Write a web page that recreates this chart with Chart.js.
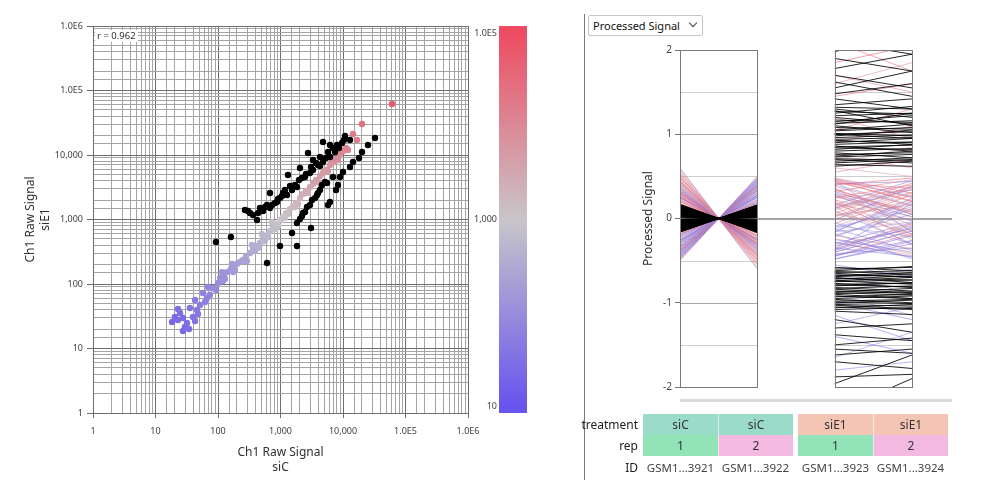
<!DOCTYPE html>
<html>
<head>
<meta charset="utf-8">
<script src="https://cdn.jsdelivr.net/npm/chart.js@4.4.1/dist/chart.umd.min.js"></script>
<style>
  body { margin: 0; background: #fff; font-family: "Noto Sans", sans-serif; }
  #page { position: relative; width: 993px; height: 497px; overflow: hidden; }
  #scatterBox { position: absolute; left: 0; top: 0; width: 580px; height: 497px; }
  #profileBox { position: absolute; left: 637px; top: 40px; width: 356px; height: 360px; }
  #divider { position: absolute; left: 584px; top: 14px; width: 1px; height: 466px; background: #7a7a7a; }
  #measure { position: absolute; left: 588px; top: 15px; width: 115px; height: 21px; box-sizing: border-box;
             border: 1px solid #c4c4c4; border-radius: 2px; font-size: 11px; line-height: 19px; color: #111; padding-left: 4px; }
  #measure .chev { position: absolute; left: 101px; top: 4px; width: 5px; height: 5px;
                   border-right: 1px solid #444; border-bottom: 1px solid #444; transform: rotate(45deg); }
  #scroll { position: absolute; left: 680px; top: 399px; width: 272px; height: 3px; background: #dadada; }
  .lbl { position: absolute; width: 80px; text-align: right; font-size: 12px; color: #222; }
  .cell { position: absolute; height: 21px; line-height: 21px; text-align: center; font-size: 12px; color: #333; box-sizing: border-box; }
</style>
</head>
<body>
<div id="page">
  <div id="scatterBox"><canvas id="scatter"></canvas></div>
  <div id="divider"></div>
  <div id="measure">Processed Signal<span class="chev"></span></div>
  <div id="profileBox"><canvas id="profile"></canvas></div>
  <div id="scroll"></div>
  <div id="table"></div>
</div>
<script>
// ---- scatter: Ch1 raw signal, siC (x) vs siE1 (y) ----
const siC_raw = [18.4,20.5,22.9,24.7,27.5,29.6,31.9,34.4,35.6,39.8,42.9,46.1,51.5,47.9,57.5,62,66.7,74.5,83.2,92.9,
  100,108,125,139,161,180,201,225,251,281,325,363,406,470,525,586,679,759,847,982,
  1096,1225,1419,1585,1770,2051,2291,2559,2965,3311,3698,4285,4786,5346,6194,6918,7727,8954,10000,11170,
  14450,16750,20140,60800,120,174,291,437,631,912,1318,1905,2754,3981,5754,8318,12020,22.9,27.5,42.9,69.2,
  129,187,270,391,565,817,1180,1706,116,167,350,506,731];
const siE1_raw = [25.8,30.8,27.7,35.5,18.7,21.5,24.9,20.1,42.5,30.8,26.7,39.5,47.3,34.3,72.5,52.6,60.7,67.5,86.7,80.7,
  104,124,133,153,171,190,204,219,236,272,303,337,388,432,499,555,663,738,851,982,
  1094,1261,1455,1619,1803,2154,2485,2767,3190,3550,4090,4725,5260,5850,7000,7790,8670,10370,11530,12840,
  21170,17100,30260,61800,111,153,227,361,535,793,1217,1738,2576,3813,5650,8360,11960,41,29.7,56.5,89.8,
  120,165,227,325,464,712,1055,1563,153,204,402,596,915];
// highlighted (changed) genes
const sel_siC_raw = [270,325,421,470,525,608,679,817,679,879,982,1096,1271,1318,1528,1837,2051,2466,2965,3311,
  3981,4786,2754,6194,6918,4786,3311,4285,5754,6194,8017,9638,10370,10765,12942,
  302,363,437,565,731,912,1057,1180,1419,1706,1977,2208,2559,3076,3698,4285,5346,7447,8630,
  92.9,161,608,982,1837,1528,
  1837,2051,2291,2655,2965,3192,3837,4285,4613,5152,5546,6194,5754,6918,3076,8954,10000,12942,14450,18030,
  20140,25120,32510,7727,8318,3565,2466,2208,3981];
const sel_siE1_raw = [1400,1261,982,1508,1355,1680,1508,1803,2576,1868,2154,2576,2400,4890,2860,3190,6290,4560,5260,5850,
  7000,7790,10740,9310,12840,15910,8360,9310,11130,14300,14300,15350,17100,19710,17100,
  1355,1175,1261,1563,1680,2080,2313,2860,3306,3420,4090,4400,5075,6520,7515,6750,8980,11130,12840,
  448,535,212,388,388,618,
  883,1018,1261,1563,1680,2005,2400,2860,3420,3813,3680,1868,1680,4560,738,4560,5450,6520,7790,8980,
  11130,14300,18350,2860,3420,2154,1307,1133,2576];
const axisTicks = [1, 10, 100, 1000, 10000, 100000, 1000000];
const colorBarTicks = [10, 1000, 100000];
const corrLabel = 'r = 0.962';

// ---- profile: processed signal per sample ----
const sampleIds = ['GSM1...3921', 'GSM1...3922', 'GSM1...3923', 'GSM1...3924'];
const treatments = ['siC', 'siC', 'siE1', 'siE1'];
const reps = ['1', '2', '1', '2'];
const sampleX = [0, 1, 2, 3];

const hl_siC_1 = [0.12,-0.08,0.05,-0.15,0.10,-0.03,0.16,-0.11,0.02,-0.06,0.14,-0.13,0.07,-0.02,0.09,-0.16,0.04,-0.09,0.13,-0.05,
  0.01,-0.12,0.15,-0.07,0.06,-0.10,0.11,-0.04,0.08,-0.14,0.03,-0.11,0.17,-0.06,0.09,-0.13,0.05,-0.02,0.12,-0.08,
  0.14,-0.16,0.07,-0.04,0.10,-0.09,0.02,-0.12,0.15,-0.05,0.06,-0.15,0.11,-0.03,0.08,-0.10,0.13,-0.07,0.04,-0.01,
  0.09,-0.12,0.15,-0.04,0.06,-0.14,0.11,-0.07,0.03,-0.16,0.13,-0.09,0.05,-0.11,0.16,-0.02,0.08,-0.13,0.10,-0.06,
  0.12,-0.05,0.04,-0.15,0.14,-0.08,0.07,-0.10,0.02,-0.12,0.11,-0.03,0.16,-0.09,0.06,-0.14,0.09,-0.01,0.13,-0.07];
const hl_siC_2 = [-0.12,0.08,-0.05,0.15,-0.10,0.03,-0.16,0.11,-0.02,0.06,-0.14,0.13,-0.07,0.02,-0.09,0.16,-0.04,0.09,-0.13,0.05,
  -0.01,0.12,-0.15,0.07,-0.06,0.10,-0.11,0.04,-0.08,0.14,-0.03,0.11,-0.17,0.06,-0.09,0.13,-0.05,0.02,-0.12,0.08,
  -0.14,0.16,-0.07,0.04,-0.10,0.09,-0.02,0.12,-0.15,0.05,-0.06,0.15,-0.11,0.03,-0.08,0.10,-0.13,0.07,-0.04,0.01,
  -0.09,0.12,-0.15,0.04,-0.06,0.14,-0.11,0.07,-0.03,0.16,-0.13,0.09,-0.05,0.11,-0.16,0.02,-0.08,0.13,-0.10,0.06,
  -0.12,0.05,-0.04,0.15,-0.14,0.08,-0.07,0.10,-0.02,0.12,-0.11,0.03,-0.16,0.09,-0.06,0.14,-0.09,0.01,-0.13,0.07];
const hl_siE1_1 = [2.10,1.98,1.90,1.78,1.70,1.55,1.62,1.48,1.42,1.35,1.30,1.25,1.20,1.15,1.10,1.05,1.00,0.98,0.93,0.90,
  0.86,0.82,0.78,0.74,0.70,0.68,0.64,0.62,1.28,1.12,
  -0.58,-0.62,-0.65,-0.68,-0.70,-0.74,-0.77,-0.80,-0.84,-0.87,-0.90,-0.93,-0.96,-1.00,-1.03,-1.06,-1.10,-1.20,-1.30,-1.38,
  -1.50,-1.55,-1.62,-1.70,-1.96,-2.30,-1.88,-0.72,-0.82,-0.95,
  0.66,0.71,0.76,0.80,0.84,0.88,0.92,0.96,1.01,1.04,1.08,1.13,1.17,1.22,1.27,1.32,0.73,0.94,1.00,0.85,
  -0.60,-0.63,-0.67,-0.71,-0.75,-0.79,-0.83,-0.86,-0.89,-0.92,-0.98,-1.02,-1.05,-1.08,-0.69,-0.78,-0.88,-0.99,-0.64,-0.74];
const hl_siE1_2 = [1.95,2.20,1.75,1.95,1.55,1.75,1.45,1.60,1.30,1.42,1.20,1.33,1.12,1.22,1.02,1.12,0.95,1.05,0.88,0.95,
  0.80,0.88,0.72,0.80,0.66,0.72,0.62,0.68,1.10,1.25,
  -0.62,-0.57,-0.70,-0.64,-0.76,-0.70,-0.82,-0.76,-0.88,-0.83,-0.95,-0.90,-1.00,-0.97,-1.07,-1.02,-1.14,-1.35,-1.25,-1.45,
  -1.42,-1.60,-1.55,-1.78,-1.62,-1.90,-1.85,-0.68,-0.86,-0.92,
  0.70,0.69,0.78,0.83,0.82,0.91,0.90,0.99,0.98,1.08,1.06,1.16,1.14,1.25,1.24,1.30,0.76,0.96,1.03,0.87,
  -0.58,-0.66,-0.69,-0.73,-0.73,-0.81,-0.80,-0.89,-0.87,-0.95,-0.96,-1.04,-1.08,-1.06,-0.66,-0.77,-0.91,-1.01,-0.62,-0.78];

const col_siC_1 = [0.45,-0.38,0.30,-0.25,0.52,-0.45,0.20,-0.30,0.38,-0.18,0.60,-0.50,0.25,-0.35,0.15,-0.22,0.42,-0.40,0.33,-0.28,
  0.12,-0.15,0.48,-0.42,0.27,-0.20,0.36,-0.32,0.22,-0.47,0.40,-0.36,0.18,-0.26,0.50,-0.44,0.28,-0.12,0.34,-0.38,
  0.55,-0.30,0.24,-0.22,0.44,-0.48,0.32,-0.16,0.20,-0.34,0.46,-0.40,0.30,-0.24,0.38,-0.20,0.26,-0.43,0.16,-0.28,
  0.35,-0.33,0.41,-0.19,0.29,-0.37,0.14,-0.46,0.23,-0.27,
  0.50,-0.42,0.36,-0.28,0.44,-0.34,0.26,-0.46,0.40,-0.22,0.54,-0.38,0.32,-0.30,0.48,-0.44,0.21,-0.36,0.58,-0.26,
  0.37,-0.41,0.29,-0.33,0.43,-0.18,0.31,-0.49,0.25,-0.39];
const col_siC_2 = [-0.45,0.38,-0.30,0.25,-0.52,0.45,-0.20,0.30,-0.38,0.18,-0.60,0.50,-0.25,0.35,-0.15,0.22,-0.42,0.40,-0.33,0.28,
  -0.12,0.15,-0.48,0.42,-0.27,0.20,-0.36,0.32,-0.22,0.47,-0.40,0.36,-0.18,0.26,-0.50,0.44,-0.28,0.12,-0.34,0.38,
  -0.55,0.30,-0.24,0.22,-0.44,0.48,-0.32,0.16,-0.20,0.34,-0.46,0.40,-0.30,0.24,-0.38,0.20,-0.26,0.43,-0.16,0.28,
  -0.35,0.33,-0.41,0.19,-0.29,0.37,-0.14,0.46,-0.23,0.27,
  -0.50,0.42,-0.36,0.28,-0.44,0.34,-0.26,0.46,-0.40,0.22,-0.54,0.38,-0.32,0.30,-0.48,0.44,-0.21,0.36,-0.58,0.26,
  -0.37,0.41,-0.29,0.33,-0.43,0.18,-0.31,0.49,-0.25,0.39];
const col_siE1_1 = [0.30,-0.20,0.45,-0.40,0.10,-0.05,0.25,-0.35,0.05,0.40,-0.15,0.20,-0.45,0.35,-0.25,0.15,-0.10,0.48,-0.30,0.00,
  0.28,-0.42,0.12,-0.18,0.38,-0.08,0.22,-0.32,0.42,-0.48,0.08,-0.22,0.32,-0.38,0.18,-0.12,0.46,0.02,-0.28,0.26,
  0.55,0.75,0.90,1.20,1.45,1.70,1.85,0.65,1.05,1.60,0.60,2.10,
  -0.55,-0.75,-1.00,-1.25,-1.40,-1.65,-1.80,-0.90,-1.15,-0.65,
  0.14,-0.02,0.36,-0.36,0.04,-0.16,0.24,-0.44,
  0.44,-0.12,0.18,-0.36,0.06,0.32,-0.28,0.12,-0.44,0.27,-0.06,0.40,-0.33,0.16,-0.20,0.47,-0.40,0.09,0.34,-0.16,
  0.22,-0.48,0.03,0.41,-0.24,0.13,-0.37,0.29,-0.09,0.45];
const col_siE1_2 = [0.10,0.05,0.20,-0.15,0.35,-0.30,0.40,-0.45,-0.10,0.48,0.20,-0.25,-0.20,0.05,-0.40,0.30,0.10,0.30,-0.05,0.22,
  -0.08,-0.35,0.42,-0.48,0.15,-0.22,0.02,-0.12,0.36,-0.30,-0.18,0.12,0.46,-0.10,-0.02,-0.38,0.25,0.28,-0.46,0.08,
  0.70,0.60,1.10,0.95,1.60,1.50,2.05,0.85,1.30,1.85,0.50,1.75,
  -0.70,-0.60,-1.20,-1.05,-1.60,-1.35,-1.70,-1.15,-1.45,-0.90,
  -0.32,0.38,-0.15,0.18,0.16,-0.04,0.34,-0.26,
  0.21,0.14,-0.22,-0.08,0.39,0.05,-0.44,0.34,-0.18,-0.03,0.28,0.16,-0.12,0.45,-0.36,0.26,-0.14,-0.30,0.07,0.24,
  -0.19,-0.27,0.31,0.44,-0.42,0.37,-0.06,0.02,0.20,-0.16];
// log10 mean raw signal, drives the line colour
const col_level = [4.2,1.8,4.5,1.5,3.9,2.0,4.4,1.6,3.6,4.7,1.9,4.1,1.4,4.3,1.7,3.8,2.1,4.6,1.5,3.7,
  4.0,1.6,4.4,1.8,4.2,2.2,3.9,1.7,4.5,1.4,3.8,2.0,4.3,1.5,4.1,1.9,4.6,3.5,1.6,4.0,
  4.3,3.9,4.5,4.1,4.7,4.2,4.8,3.8,4.4,4.0,3.7,4.6,
  1.5,1.8,1.3,1.7,1.4,1.9,1.6,2.0,1.5,1.8,
  4.2,1.7,3.9,1.6,4.4,2.1,4.0,1.5,
  4.3,2.0,4.1,1.7,4.5,1.6,3.9,1.8,4.4,1.5,4.6,2.1,4.0,1.7,4.2,1.6,3.8,1.9,4.5,1.4,
  4.1,1.8,4.3,1.6,4.0,2.0,4.4,1.5,3.9,1.7];

Chart.defaults.font.family = "'Noto Sans', sans-serif";
Chart.defaults.color = '#404040';

// blue -> grey -> red, on log10 signal
function heat(lg, a) {
  const stops = [[1, [104, 84, 238]], [3, [200, 198, 201]], [5, [238, 76, 99]]];
  lg = Math.max(1, Math.min(5, lg));
  const s = lg <= 3 ? 0 : 1;
  const t = (lg - stops[s][0]) / 2;
  const c = stops[s][1].map((c0, k) => Math.round(c0 + (stops[s + 1][1][k] - c0) * t));
  return `rgba(${c[0]},${c[1]},${c[2]},${a})`;
}

function fmtSignal(v) {
  if (v >= 100000) return '1.0E' + Math.round(Math.log10(v));
  return v.toLocaleString('en-US');
}
const isDecade = v => Math.abs(Math.log10(v) - Math.round(Math.log10(v))) < 1e-9;

const colorBarPlugin = {
  id: 'colorBar',
  afterDraw(chart) {
    const { ctx, chartArea: a } = chart;
    const x0 = a.right + 31, w = 28;
    const yOf = lg => a.bottom - 7 - (lg - 1) * (a.height - 14) / 4;
    ctx.save();
    const g = ctx.createLinearGradient(0, yOf(5), 0, yOf(1));
    g.addColorStop(0, heat(5, 1));
    g.addColorStop(0.5, heat(3, 1));
    g.addColorStop(1, heat(1, 1));
    ctx.fillStyle = g;
    ctx.fillRect(x0, a.top, w, a.height);
    ctx.font = "9px 'Noto Sans'";
    ctx.fillStyle = '#404040';
    ctx.textAlign = 'right';
    ctx.textBaseline = 'middle';
    colorBarTicks.forEach(v => ctx.fillText(fmtSignal(v), x0 - 2, yOf(Math.log10(v))));
    // correlation tag
    ctx.fillStyle = '#fff';
    ctx.fillRect(a.left + 2, a.top + 4, 43, 12);
    ctx.fillStyle = '#303030';
    ctx.textAlign = 'left';
    ctx.font = "9.5px 'Noto Sans'";
    ctx.fillText(corrLabel, a.left + 4, a.top + 10);
    ctx.restore();
  }
};

const logAxis = (titleLines, isX) => ({
  type: 'logarithmic',
  min: 1,
  max: 1000000,
  position: isX ? 'bottom' : 'left',
  grid: {
    color: c => isDecade(c.tick.value) ? '#6e6e6e' : '#a4a4a4',
    tickColor: c => isDecade(c.tick.value) ? '#6e6e6e' : 'rgba(0,0,0,0)',
    tickLength: isX ? 5 : 6,
    lineWidth: 1
  },
  border: { color: '#6e6e6e' },
  ticks: {
    autoSkip: false,
    maxRotation: 0,
    padding: isX ? 8 : 4,
    font: { size: 9 },
    color: '#404040',
    callback: v => axisTicks.includes(v) ? fmtSignal(v) : ''
  },
  title: {
    display: true,
    text: titleLines,
    color: '#303030',
    font: { size: 12, lineHeight: 1.25 },
    padding: isX ? { top: 4, bottom: 22 } : { top: 4, bottom: 4 }
  },
  afterFit: s => { if (isX) s.height = 84; else s.width = 74; }
});

new Chart(document.getElementById('scatter'), {
  type: 'scatter',
  data: {
    datasets: [
      {
        data: sel_siC_raw.map((x, i) => ({ x, y: sel_siE1_raw[i] })),
        backgroundColor: '#000',
        pointRadius: 3.2,
        borderWidth: 0
      },
      {
        data: siC_raw.map((x, i) => ({ x, y: siE1_raw[i] })),
        backgroundColor: siC_raw.map((x, i) => heat(Math.log10(Math.sqrt(x * siE1_raw[i])), 1)),
        pointRadius: 3.2,
        borderWidth: 0
      }
    ]
  },
  options: {
    responsive: true,
    maintainAspectRatio: false,
    animation: false,
    events: [],
    layout: { padding: { left: 19, top: 26, right: 112, bottom: 0 } },
    plugins: { legend: { display: false }, tooltip: { enabled: false } },
    scales: {
      x: logAxis(['Ch1 Raw Signal', 'siC'], true),
      y: logAxis(['Ch1 Raw Signal', 'siE1'], false)
    }
  },
  plugins: [colorBarPlugin]
});

// ---- profile chart ----
const groupSpans = [[0, 1], [2, 3]];
const gridLevels = [1.5, 1, 0.5, -0.5, -1, -1.5];

const panelPlugin = {
  id: 'panels',
  beforeDatasetsDraw(chart) {
    const { ctx, chartArea: a, scales: { x, y } } = chart;
    ctx.save();
    ctx.lineWidth = 1;
    groupSpans.forEach(([g0, g1]) => {
      const l = x.getPixelForValue(g0), r = x.getPixelForValue(g1);
      gridLevels.forEach(v => {
        const py = Math.round(y.getPixelForValue(v)) + 0.5;
        ctx.strokeStyle = Number.isInteger(v) ? '#a6a6a6' : '#cdcdcd';
        ctx.beginPath(); ctx.moveTo(l, py); ctx.lineTo(r, py); ctx.stroke();
      });
    });
    const zy = Math.round(y.getPixelForValue(0));
    ctx.strokeStyle = '#a6a6a6';
    ctx.lineWidth = 2;
    ctx.beginPath(); ctx.moveTo(x.getPixelForValue(0), zy); ctx.lineTo(a.right, zy); ctx.stroke();
    ctx.restore();
  },
  afterDatasetsDraw(chart) {
    const { ctx, chartArea: a, scales: { x } } = chart;
    ctx.save();
    ctx.strokeStyle = '#7a7a7a';
    ctx.lineWidth = 1;
    groupSpans.forEach(([g0, g1]) => {
      const l = Math.round(x.getPixelForValue(g0)) + 0.5, r = Math.round(x.getPixelForValue(g1)) + 0.5;
      ctx.strokeRect(l, Math.round(a.top) + 0.5, r - l, Math.round(a.bottom - a.top));
    });
    ctx.restore();
  }
};

function profileSet(vals, color) {
  return {
    data: vals.map((v, k) => ({ x: sampleX[k], y: v })),
    borderColor: color,
    borderWidth: 1,
    pointRadius: 0,
    tension: 0,
    segment: { borderColor: c => c.p0DataIndex === 1 ? 'rgba(0,0,0,0)' : color }
  };
}

const profileSets = [];
hl_siC_1.forEach((v, i) => profileSets.push(profileSet([v, hl_siC_2[i], hl_siE1_1[i], hl_siE1_2[i]], 'rgba(0,0,0,0.85)')));
col_siC_1.forEach((v, i) => profileSets.push(profileSet([v, col_siC_2[i], col_siE1_1[i], col_siE1_2[i]], heat(col_level[i], 0.55))));

new Chart(document.getElementById('profile'), {
  type: 'line',
  data: { datasets: profileSets },
  options: {
    responsive: true,
    maintainAspectRatio: false,
    animation: false,
    events: [],
    layout: { padding: { left: 0, top: 10, right: 41, bottom: 13 } },
    plugins: { legend: { display: false }, tooltip: { enabled: false } },
    scales: {
      x: { type: 'linear', display: false, min: 0, max: 3.517 },
      y: {
        min: -2,
        max: 2,
        grid: { drawOnChartArea: false, tickLength: 5, color: '#7a7a7a' },
        border: { display: false },
        ticks: { stepSize: 1, padding: 3, font: { size: 10 }, color: '#404040', callback: v => String(v) },
        title: { display: true, text: 'Processed Signal', color: '#303030', font: { size: 12 }, padding: { top: 4, bottom: 4 } },
        afterFit: s => { s.width = 43; }
      }
    }
  },
  plugins: [panelPlugin]
});

// ---- sample annotation table ----
const treatColor = { siC: '#9bdcc9', siE1: '#f4c4b4' };
const repColor = { '1': '#93e3b9', '2': '#f4b9e1' };
const colLeft = [643, 718, 798, 873];
const colWidth = 75;
const table = document.getElementById('table');
[['treatment', 414], ['rep', 435], ['ID', 457]].forEach(([name, top]) => {
  const d = document.createElement('div');
  d.className = 'lbl';
  d.style.left = '558px';
  d.style.top = (top + 2) + 'px';
  d.textContent = name;
  table.appendChild(d);
});
sampleIds.forEach((id, i) => {
  const rows = [
    [treatments[i], 414, treatColor[treatments[i]]],
    [reps[i], 435, repColor[reps[i]]],
    [id, 457, 'transparent']
  ];
  rows.forEach(([txt, top, bg]) => {
    const c = document.createElement('div');
    c.className = 'cell';
    c.style.left = colLeft[i] + 'px';
    c.style.top = top + 'px';
    c.style.width = colWidth + 'px';
    c.style.background = bg;
    if (i % 2 === 1 && bg !== 'transparent') c.style.borderLeft = '1px solid rgba(255,255,255,0.6)';
    if (bg === 'transparent') { c.style.color = '#444'; c.style.fontSize = '11.5px'; }
    c.textContent = txt;
    table.appendChild(c);
  });
});
</script>
</body>
</html>
